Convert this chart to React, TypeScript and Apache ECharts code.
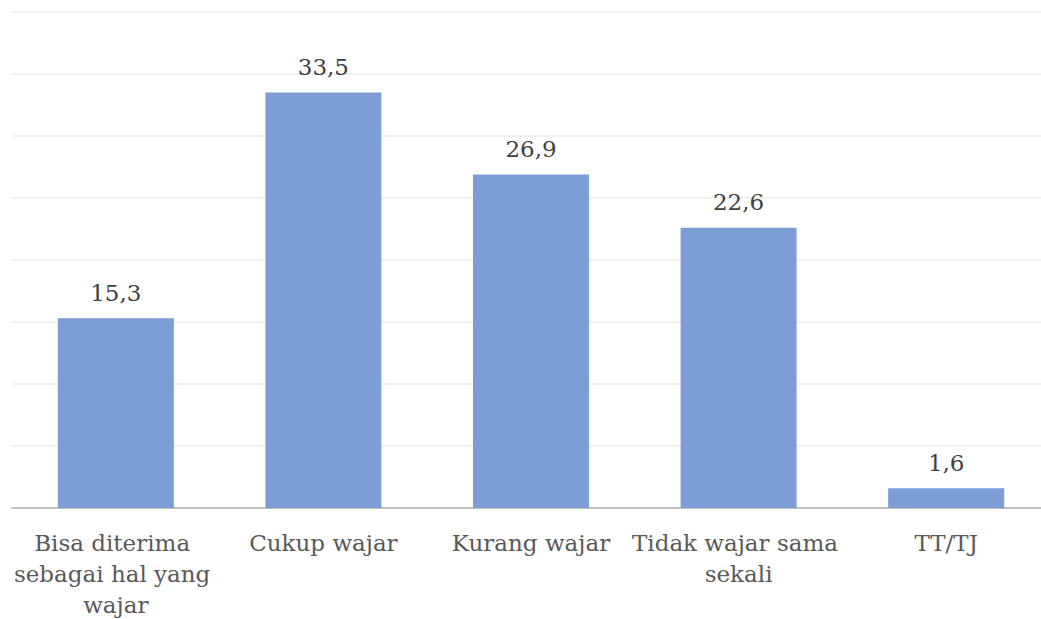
import React, { useEffect, useRef } from "react";
import * as echarts from "echarts";

const categories = [
  "Bisa diterima sebagai hal yang wajar",
  "Cukup wajar",
  "Kurang wajar",
  "Tidak wajar sama sekali",
  "TT/TJ",
];
const values = [15.3, 33.5, 26.9, 22.6, 1.6];
const yMin = 0;
const yMax = 40;
const yInterval = 5;

const serif = "DejaVu Serif";

export default function App() {
  const ref = useRef<HTMLDivElement>(null);
  useEffect(() => {
    document.body.style.margin = "0";
    document.body.style.overflow = "hidden";
    const chart = echarts.init(ref.current!, null, { renderer: "svg" });
    chart.setOption({
      animation: false,
      backgroundColor: "#ffffff",
      grid: { left: 12, top: 12, width: 1038, height: 496, containLabel: false, outerBoundsMode: "none" },
      xAxis: {
        type: "category",
        data: categories,
        axisLine: { show: true, lineStyle: { color: "#bfbfbf", width: 2 } },
        axisTick: { show: false },
        axisLabel: {
          interval: 0,
          color: "#595959",
          fontFamily: serif,
          fontSize: 23,
          lineHeight: 31,
          margin: 19,
          width: 215,
          overflow: "break",
          align: "center",
        },
      },
      yAxis: {
        type: "value",
        min: yMin,
        max: yMax,
        interval: yInterval,
        axisLine: { show: false },
        axisTick: { show: false },
        axisLabel: { show: false },
        splitLine: { show: true, lineStyle: { color: "#ebebeb", width: 1.5 } },
      },
      series: [
        {
          type: "bar",
          data: values,
          barWidth: 116,
          itemStyle: { color: "#7C9DD6" },
          label: {
            show: true,
            position: "top",
            distance: 14,
            color: "#404040",
            fontFamily: serif,
            fontSize: 23,
            formatter: (p: any) => Number(p.value).toFixed(1).replace(".", ","),
          },
        },
      ],
    });
    return () => chart.dispose();
  }, []);
  return <div ref={ref} style={{ width: 1041, height: 619 }} />;
}
